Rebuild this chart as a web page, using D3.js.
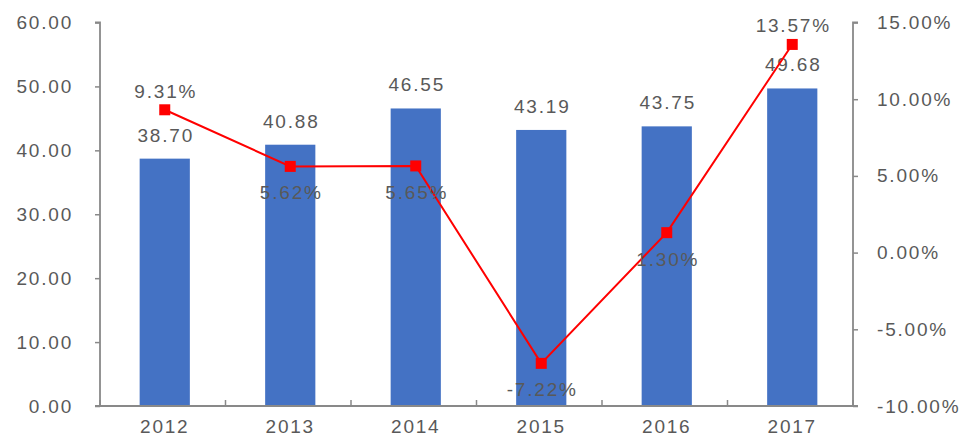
<!DOCTYPE html>
<html><head><meta charset="utf-8">
<script src="https://cdn.jsdelivr.net/npm/d3@7"></script>
<style>
html,body{margin:0;padding:0;background:#fff;}
svg text{font-family:"Liberation Sans",Arial,sans-serif;font-size:19px;fill:#595959;letter-spacing:1.8px;}
</style></head><body>
<svg id="c" width="965" height="436"></svg>
<script>
const years = ["2012","2013","2014","2015","2016","2017"];
const values = [38.70, 40.88, 46.55, 43.19, 43.75, 49.68];
const growth = [9.31, 5.62, 5.65, -7.22, 1.30, 13.57];
const growthLabelPos = ["above","below","below","below","below","above"];
const leftTicks = [0,10,20,30,40,50,60];
const rightTicks = [-10,-5,0,5,10,15];

const svg = d3.select("#c");
const L = 100, R = 853, T = 22.5, B = 406;
const axisColor = "#898989";
const loc = d3.formatLocale({decimal: ".", thousands: ",", grouping: [3], currency: ["", ""], minus: "-"});
const f2 = loc.format(".2f");

const x = d3.scaleBand().domain(years).range([L + 2, R + 2]).paddingInner(0.6).paddingOuter(0.3);
const xb = d3.scaleBand().domain(years).range([L, R]);
const yL = d3.scaleLinear().domain([0, 60]).range([B, T]);
const yR = d3.scaleLinear().domain([-10, 15]).range([B, T]);

// bars
svg.selectAll("rect.bar").data(values).enter().append("rect")
  .attr("x", (d,i) => x(years[i]))
  .attr("width", x.bandwidth())
  .attr("y", d => yL(d))
  .attr("height", d => B - yL(d))
  .attr("fill", "#4472C4");

// left axis
const gL = svg.append("g").attr("transform", `translate(${L},0)`)
  .call(d3.axisLeft(yL).tickValues(leftTicks).tickFormat(f2).tickSize(5).tickPadding(22));
// right axis
const gR = svg.append("g").attr("transform", `translate(${R},0)`)
  .call(d3.axisRight(yR).tickValues(rightTicks).tickFormat(d => f2(d) + "%").tickSize(5).tickPadding(19));
// bottom axis
const gB = svg.append("g").attr("transform", `translate(0,${B})`)
  .call(d3.axisBottom(xb).tickSize(0).tickPadding(14));
gB.selectAll(".tick").attr("transform", d => `translate(${x(d) + x.bandwidth()/2},0)`);
// category boundary ticks (inside)
const bounds = years.map(y => xb(y)).concat([R]);
gB.selectAll("line.bt").data(bounds).enter().append("line")
  .attr("x1", d => d).attr("x2", d => d).attr("y1", 0).attr("y2", -6)
  .attr("stroke", axisColor).attr("stroke-width", 1.5);

[gL, gR, gB].forEach(g => {
  g.select(".domain").attr("stroke", axisColor).attr("stroke-width", 1.8);
  g.selectAll(".tick line").attr("stroke", axisColor).attr("stroke-width", 1.5);
  g.selectAll(".tick text").attr("fill", "#595959").style("font-size", "19px");
});
gL.select(".domain").attr("d", `M-5,${T}H0V${B}H-5`);
gR.select(".domain").attr("d", `M5,${T}H0V${B}H5`);
gB.select(".domain").attr("d", `M${L},0H${R}`);

// bar labels
svg.selectAll("text.vl").data(values).enter().append("text")
  .attr("x", (d,i) => x(years[i]) + x.bandwidth()/2 + 1)
  .attr("y", d => yL(d) - 17)
  .attr("text-anchor", "middle")
  .text(d => f2(d));

// line
const cx = i => x(years[i]) + x.bandwidth()/2;
const line = d3.line().x((d,i) => cx(i)).y(d => yR(d));
svg.append("path").datum(growth).attr("d", line)
  .attr("fill", "none").attr("stroke", "#FF0000").attr("stroke-width", 2);
svg.selectAll("rect.mk").data(growth).enter().append("rect")
  .attr("x", (d,i) => cx(i) - 5.5).attr("y", d => yR(d) - 5.5)
  .attr("width", 11).attr("height", 11).attr("fill", "#FF0000");

// growth labels
svg.selectAll("text.gl").data(growth).enter().append("text")
  .attr("x", (d,i) => cx(i) + 1)
  .attr("y", (d,i) => growthLabelPos[i] === "above" ? yR(d) - 12 : yR(d) + 33)
  .attr("text-anchor", "middle")
  .text(d => f2(d) + "%");
</script>
</body></html>
